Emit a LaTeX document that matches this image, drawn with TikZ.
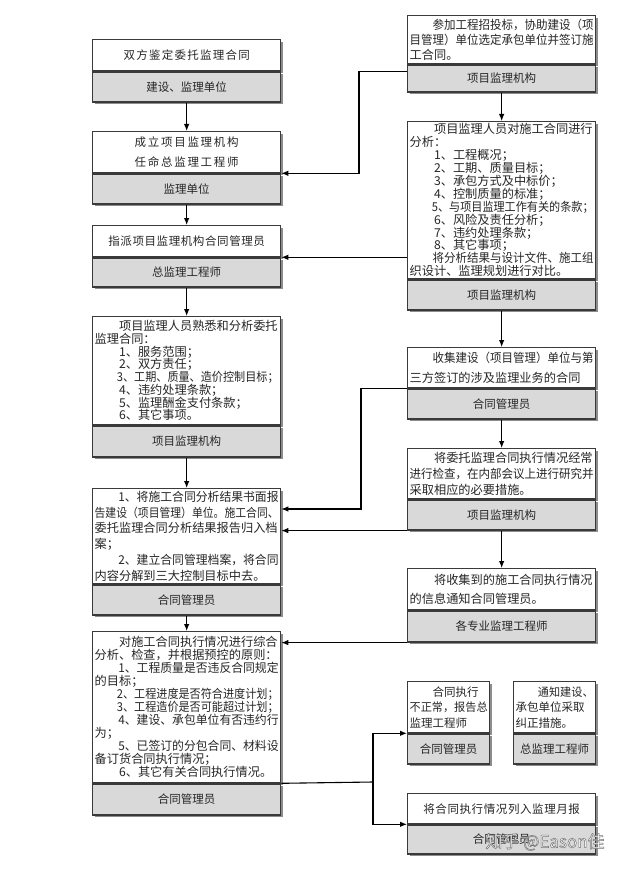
\documentclass[tikz,border=0pt]{standalone}
\usepackage{fontspec}
\setmainfont{Noto Sans CJK SC}
\usepackage{graphicx}
\usetikzlibrary{arrows.meta,shadows,calc}
\definecolor{boxgray}{HTML}{D9D9D9}
\definecolor{edge}{HTML}{3A3A3A}
\definecolor{ink}{HTML}{262626}
\XeTeXlinebreaklocale "zh"
\XeTeXlinebreakskip=0pt plus 1pt
\newsavebox\flbox
\newcommand{\fl}[1]{\sbox\flbox{#1}\ifdim\wd\flbox>\hsize\resizebox{\hsize}{\height}{\usebox\flbox}\else\makebox[\hsize][s]{#1}\fi}
\newcommand{\ind}{\hspace*{2em}}
\newcommand{\outlined}[1]{\special{pdf:literal direct 2 Tr 0.5 w 0.45 G}#1\special{pdf:literal direct 0 Tr}}
\newcommand{\twobox}[9]{%
  \node[toppart, minimum width=#4pt, minimum height=#5pt, text width=\the\numexpr#4-4\relax pt, #7] (#1t) at (#2,#3) {#8};
  \node[botpart, minimum width=#4pt, minimum height=#6pt] (#1b) at (#1t.south west) {#9};
}
\tikzset{
  shade/.style={drop shadow={shadow xshift=2.2pt,shadow yshift=-2.2pt,fill=black!45,opacity=1}},
  toppart/.style={draw=edge, line width=1.3pt, fill=white, anchor=north west, inner xsep=2pt, inner ysep=0pt,
    align=left, text=ink, shade, font=\fontsize{12.2}{13}\selectfont},
  botpart/.style={draw=edge, line width=1.3pt, fill=boxgray, anchor=north west, inner sep=0pt,
    text=ink, shade, font=\fontsize{11.5}{13}\selectfont},
  conn/.style={draw=black, line width=1.1pt, -{Latex[length=7pt,width=5.5pt]}},
  plain/.style={draw=black, line width=1.1pt}
}
\begin{document}
\begin{tikzpicture}[x=1pt,y=-1pt]
\useasboundingbox (0,0) rectangle (635,869);
\fill[white] (0,0) rectangle (635,869);

% left column
\twobox{b1}{92}{39}{188}{31}{30}{align=center, font=\fontsize{11.5}{13}\selectfont}{双方鉴定委托监理合同}{建设、监理单位}
\twobox{b2}{92}{131}{188}{41}{30}{align=center, font=\fontsize{11.5}{20}\selectfont}{成立项目监理机构\\任命总监理工程师}{监理单位}
\twobox{b3}{92}{225}{188}{31}{29}{align=center, font=\fontsize{11.5}{13}\selectfont}{指派项目监理机构合同管理员}{总监理工程师}
\twobox{b4}{92}{316}{188}{108}{31}{font=\fontsize{12.2}{12.7}\selectfont}{%
\fl{\ind 项目监理人员熟悉和分析委托}\\
监理合同：\\
\ind 1、服务范围；\\
\ind 2、双方责任；\\
\fl{\ind 3、工期、质量、造价控制目标；}\\
\ind 4、违约处理条款；\\
\ind 5、监理酬金支付条款；\\
\ind 6、其它事项。}{项目监理机构}
\twobox{b5}{92}{488}{188}{95}{30}{font=\fontsize{12.2}{15.8}\selectfont}{%
\fl{\ind 1、将施工合同分析结果书面报}\\
\fl{告建设（项目管理）单位。施工合同、}\\
\fl{委托监理合同分析结果报告归入档}\\
案；\\
\fl{\ind 2、建立合同管理档案，将合同}\\
内容分解到三大控制目标中去。}{合同管理员}
\twobox{b6}{92}{631}{188}{151}{31}{font=\fontsize{12.2}{13}\selectfont}{%
\fl{\ind 对施工合同执行情况进行综合}\\
分析、检查，并根据预控的原则：\\
\fl{\ind 1、工程质量是否违反合同规定}\\
的目标；\\
\fl{\ind 2、工程进度是否符合进度计划；}\\
\fl{\ind 3、工程造价是否可能超过计划；}\\
\fl{\ind 4、建设、承包单位有否违约行}\\
为；\\
\fl{\ind 5、已签订的分包合同、材料设}\\
备订货合同执行情况；\\
\ind 6、其它有关合同执行情况。\\[6pt]}{合同管理员}

% right column
\twobox{r1}{407}{15}{188}{48}{27}{font=\fontsize{12.2}{15}\selectfont}{%
\fl{\ind 参加工程招投标，协助建设（项}\\
\fl{目管理）单位选定承包单位并签订施}\\
工合同。}{项目监理机构}
\twobox{r2}{407}{121}{188}{157}{30}{font=\fontsize{12.2}{12.9}\selectfont}{%
\fl{\ind 项目监理人员对施工合同进行}\\
分析：\\
\ind 1、工程概况；\\
\ind 2、工期、质量目标；\\
\ind 3、承包方式及中标价；\\
\ind 4、控制质量的标准；\\
\fl{\ind 5、与项目监理工作有关的条款；}\\
\ind 6、风险及责任分析；\\
\ind 7、违约处理条款；\\
\ind 8、其它事项；\\
\fl{\ind 将分析结果与设计文件、施工组}\\
织设计、监理规划进行对比。}{项目监理机构}
\twobox{r3}{407}{347}{188}{40}{30}{font=\fontsize{12.2}{20}\selectfont}{%
\fl{\ind 收集建设（项目管理）单位与第}\\
三方签订的涉及监理业务的合同}{合同管理员}
\twobox{r4}{407}{448}{188}{50}{30}{font=\fontsize{12.2}{16}\selectfont}{%
\fl{\ind 将委托监理合同执行情况经常}\\
\fl{进行检查，在内部会议上进行研究并}\\
采取相应的必要措施。}{项目监理机构}
\twobox{r5}{407}{568}{188}{41}{31}{font=\fontsize{12.2}{19}\selectfont}{%
\fl{\ind 将收集到的施工合同执行情况}\\
的信息通知合同管理员。}{各专业监理工程师}
\twobox{r6}{407}{681}{82}{51}{30}{font=\fontsize{11.5}{15.5}\selectfont}{%
\fl{\ind 合同执行}\\
\fl{不正常，报告总}\\
监理工程师}{合同管理员}
\twobox{r7}{513}{681}{82}{51}{30}{font=\fontsize{11.5}{15.5}\selectfont}{%
\fl{\ind 通知建设、}\\
\fl{承包单位采取}\\
纠正措施。}{总监理工程师}
\twobox{r8}{407}{793}{188}{30}{29}{align=center, font=\fontsize{11.5}{13}\selectfont}{将合同执行情况列入监理月报}{合同管理员}

% vertical flows
\draw[conn] (b1b.south) -- (b2t.north);
\draw[conn] (b2b.south) -- (b3t.north);
\draw[conn] (b3b.south) -- (b4t.north);
\draw[conn] (b4b.south) -- (b5t.north);
\draw[conn] (b5b.south) -- (b6t.north);
\draw[conn] (r1b.south) -- (r2t.north);
\draw[conn] (r2b.south) -- (r3t.north);
\draw[conn] (r3b.south) -- (r4t.north);
\draw[conn] (r4b.south) -- (r5t.north);

% cross links
\draw[conn] ([yshift=-7pt]r1b.north west) -- ++(-48,0) |- (b2t.south east);
\draw[conn] (r2t.west |- b3t.south east) -- (b3t.south east);
\draw[conn] (r3t.south west) -- ++(-46,0) |- ([yshift=-21pt]b5t.north east);
\draw[conn] (r4b.south west) -- (b5t.east |- r4b.south west);
\draw[conn] (r5b.south west) -- (b6t.east |- r5b.south west);
\coordinate (split) at (373,782);
\draw[plain] (b6t.south east) -- (split);
\draw[conn] (split) |- (r6t.south west);
\draw[conn] (split) |- (r8t.south west);

% watermark
\node[text=white, font=\fontsize{17}{17}\selectfont, anchor=west] (wm) at (482,842) {\outlined{知乎 @Eason佳}};
\end{tikzpicture}
\end{document}
